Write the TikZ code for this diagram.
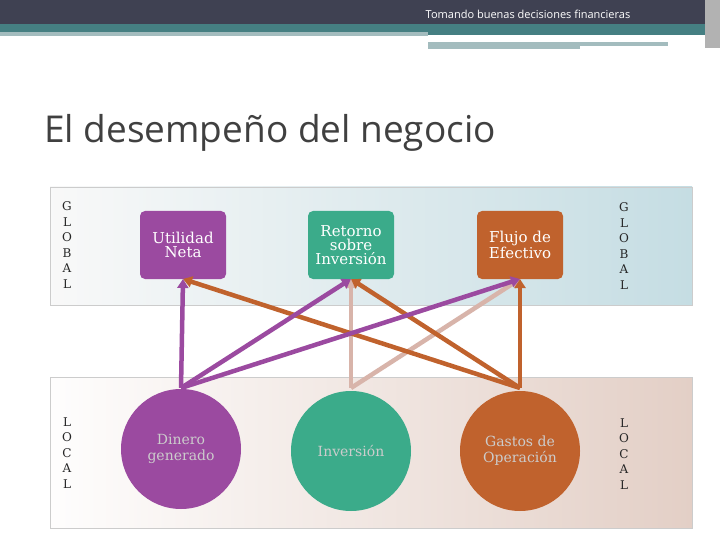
\documentclass[tikz,border=0pt]{standalone}
\usepackage{fontspec}
\setmainfont{DejaVu Serif}
\setsansfont{Open Sans}
\usetikzlibrary{arrows.meta}
\definecolor{hdr}{HTML}{3F4152}
\definecolor{teal}{HTML}{457F82}
\definecolor{lteal}{HTML}{A3BCBE}
\definecolor{pur}{HTML}{9B4AA0}
\definecolor{grn}{HTML}{3BAB8A}
\definecolor{org}{HTML}{C0622D}
\definecolor{pnk}{HTML}{D8B4AA}
\definecolor{gblue}{HTML}{C5DDE3}
\definecolor{lpink}{HTML}{E3CFC6}
\tikzset{
 box/.style={rounded corners=5pt, minimum width=86pt, minimum height=68pt, text=white, align=center, font=\fontsize{15}{14}\selectfont, inner sep=0pt},
 circ/.style={circle, minimum size=120pt, text=white!80!black, align=center, font=\fontsize{14}{16}\selectfont},
 arr/.style={line width=4.5pt, -{Triangle[length=9pt,width=11pt]}},
 side/.style={align=center, font=\fontsize{12}{15.5}\selectfont, text=black!85}
}
\begin{document}
\begin{tikzpicture}[x=1pt,y=-1pt]
\useasboundingbox (0,0) rectangle (720,540);
\fill[white] (0,0) rectangle (720,540);
% header
\fill[hdr] (0,0) rectangle (705,24);
\fill[teal] (0,24) rectangle (705,32);
\fill[lteal] (0,32) rectangle (428,36);
\fill[teal] (428,32) rectangle (705,35);
\fill[lteal] (428,42) rectangle (668,46);
\fill[lteal] (428,46) rectangle (580,49);
\fill[gray!60] (705,0) rectangle (720,48);
\node[font=\sffamily\fontsize{11}{12}\selectfont, text=white] (hdrtxt) at (528,14) {Tomando buenas decisiones financieras};
\node[anchor=west, font=\sffamily\fontsize{37}{40}\selectfont, text=black!75, inner sep=0pt] (title) at (44,133) {El desempeño del negocio};
% panels
\shade[left color=white!95!gray, right color=gblue, draw=gray!40] (50,187) rectangle (692,305);
\shade[left color=white!97!lpink, right color=lpink, draw=gray!40] (50,377) rectangle (692,528);
\node[side] (gl) at (67,245) {G\\L\\O\\B\\A\\L};
\node[side] (gr) at (624,246) {G\\L\\O\\B\\A\\L};
\node[side] (ll) at (67,453) {L\\O\\C\\A\\L};
\node[side] (lr) at (624,454) {L\\O\\C\\A\\L};
% boxes
\node[box, fill=pur] (u) at (183,245) {Utilidad\\Neta};
\node[box, fill=grn] (r) at (351,245) {Retorno\\sobre\\Inversión};
\node[box, fill=org] (f) at (520,245) {Flujo de\\Efectivo};
% circles
\node[circ, fill=pur] (d) at (181,449) {Dinero\\generado};
\node[circ, fill=grn] (i) at (351,451) {Inversión};
\node[circ, fill=org] (g) at (520,451) {Gastos de\\Operación};
% connectors
\coordinate (ub) at (183,279); \coordinate (rb) at (351,279); \coordinate (fb) at (520,279);
\coordinate (dt) at (181,388); \coordinate (it) at (351,388); \coordinate (gt) at (520,388);
\draw[arr, pnk] (it) -- (rb);
\draw[arr, pnk] (it) -- (fb);
\draw[arr, org] (gt) -- (ub);
\draw[arr, org] (gt) -- (rb);
\draw[arr, org] (gt) -- (fb);
\draw[arr, pur] (dt) -- (ub);
\draw[arr, pur] (dt) -- (rb);
\draw[arr, pur] (dt) -- (fb);
\end{tikzpicture}
\end{document}
